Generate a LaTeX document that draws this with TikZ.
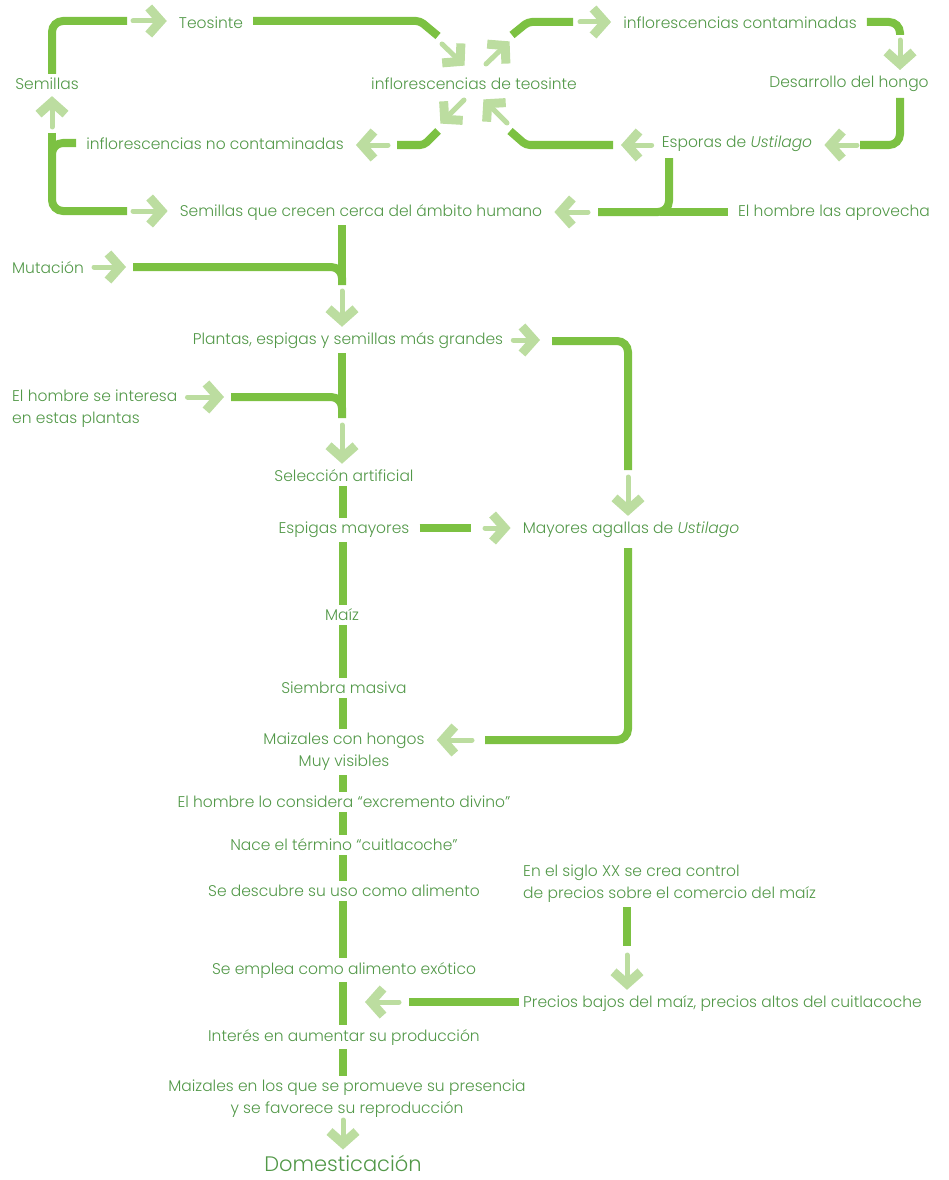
\documentclass[tikz,border=0pt]{standalone}
\usepackage{fontspec}
\setmainfont{Poppins}[UprightFont=*-Light, ItalicFont=*-LightItalic]
\usetikzlibrary{arrows.meta,calc}
\definecolor{maizdark}{RGB}{124,193,66}
\definecolor{maizlight}{RGB}{188,221,160}
\definecolor{maiztext}{RGB}{82,152,72}

\begin{document}
\begin{tikzpicture}[x=1pt, y=-1pt,
    lbl/.style={text=maiztext, font=\fontsize{15.5}{22}\selectfont, inner xsep=10pt, inner ysep=4pt, align=center, yshift=-2pt},
    darkline/.style={draw=maizdark, line width=8pt, rounded corners=11pt},
    lightarrow/.style={draw=maizlight, line width=5pt, line cap=round, -{Straight Barb[length=12pt, width=27pt, line width=9pt, sep=2pt]}}]
    \useasboundingbox (0,0) rectangle (949,1180);

    % upper cycle
    \node[lbl] (semillas) at (47,82) {Semillas};
    \node[lbl] (teosinte) at (211,21) {Teosinte};
    \node[lbl] (inflteo) at (474,82) {inflorescencias de teosinte};
    \node[lbl] (inflcont) at (740,21) {inflorescencias contaminadas};
    \node[lbl] (hongo) at (849,82) {Desarrollo del hongo};
    \node[lbl] (esporas) at (737,142) {Esporas de \textit{Ustilago}};
    \node[lbl] (inflnocont) at (215,142) {inflorescencias no contaminadas};
    \node[lbl] (semcerca) at (361,211) {Semillas que crecen cerca del ámbito humano};
    \node[lbl] (aprovecha) at (834,211) {El hombre las aprovecha};

    \draw[darkline] ([xshift=5pt]semillas.north) |- (127,21);
    \draw[lightarrow] (133,21) -- (teosinte.west |- 0,21);
    \draw[darkline, rounded corners=4pt] (teosinte.east |- 0,21) -- (420,21) -- (438,36);
    \draw[lightarrow] (442,44) -- (466,67);
    \draw[lightarrow] (486,64) -- (511,40);
    \draw[darkline, rounded corners=4pt] (512,35) -- (528,22) -- (573,22);
    \draw[lightarrow] (580,22) -- (inflcont.west |- 0,22);
    \draw[darkline] (inflcont.east |- 0,22) -| (900,35);
    \draw[lightarrow] (900,40) -- (hongo.north -| 900,0);
    \draw[darkline] (900,98) |- (860,145);
    \draw[lightarrow] (857,145) -- (esporas.east |- 0,145);
    \draw[lightarrow] (esporas.west |- 0,145) -- (619,145);
    \draw[darkline, rounded corners=4pt] (613,145) -- (526,145) -- (510,131);
    \draw[lightarrow] (507,123) -- (482,98);
    \draw[lightarrow] (464,100) -- (439,125);
    \draw[darkline, rounded corners=4pt] (438,131) -- (424,145) -- (397,145);
    \draw[lightarrow] (388,145) -- (inflnocont.east |- 0,145);
    \draw[darkline] (inflnocont.west |- 0,143) -- (52,143) -- (52,211) -- (127,211);
    \draw[darkline] (52,133) -- (52,160);
    \draw[lightarrow] (52,127) -- (semillas.south -| 52,0);
    \draw[lightarrow] (133,211) -- (semcerca.west |- 0,211);
    \draw[darkline] (669,158) |- (598,212);
    \draw[darkline] (aprovecha.west |- 0,212) -- (660,212);
    \draw[lightarrow] (588,212) -- (semcerca.east |- 0,212);

    % selection
    \node[lbl] (mutacion) at (48,266) {Mutación};
    \node[lbl] (plantas) at (348,339) {Plantas, espigas y semillas más grandes};
    \node[lbl, anchor=west, align=left] (interesa) at (2,407) {El hombre se interesa\\en estas plantas};
    \node[lbl] (seleccion) at (344,474) {Selección artificial};
    \node[lbl] (espigas) at (344,528) {Espigas mayores};
    \node[lbl] (agallas) at (631,528) {Mayores agallas de \textit{Ustilago}};

    \draw[darkline] (semcerca.south -| 342,0) -- (342,285);
    \draw[lightarrow] (mutacion.east |- 0,267) -- (128,267);
    \draw[darkline] (133,267) -| (342,285);
    \draw[lightarrow] (342,291) -- (plantas.north -| 342,0);
    \draw[darkline] (plantas.south -| 342,0) -- (342,418);
    \draw[lightarrow] (interesa.east |- 0,397) -- (226,397);
    \draw[darkline] (231,397) -| (342,418);
    \draw[lightarrow] (342,425) -- (seleccion.north -| 342,0);
    \draw[lightarrow] (plantas.east |- 0,340) -- (542,340);
    \draw[darkline] (552,341) -| (628,470);
    \draw[lightarrow] (628,477) -- (agallas.north -| 628,0);
    \draw[darkline] (espigas.east |- 0,528) -- (471,528);
    \draw[lightarrow] (485,528) -- (agallas.west |- 0,528);
    \draw[darkline] (628,548) |- (485,740);

    % main line
    \node[lbl] (maiz) at (342,613) {Maíz};
    \node[lbl] (siembra) at (344,686) {Siembra masiva};
    \node[lbl] (maizales) at (344,750) {Maizales con hongos\\Muy visibles};
    \node[lbl] (excremento) at (344,800) {El hombre lo considera “excremento divino”};
    \node[lbl] (termino) at (344,843) {Nace el término “cuitlacoche”};
    \node[lbl] (descubre) at (344,889) {Se descubre su uso como alimento};
    \node[lbl, anchor=west, align=left] (siglo) at (513,882) {En el siglo XX se crea control\\de precios sobre el comercio del maíz};
    \node[lbl] (exotico) at (344,968) {Se emplea como alimento exótico};
    \node[lbl, anchor=west] (precios) at (513,1002) {Precios bajos del maíz, precios altos del cuitlacoche};
    \node[lbl] (interes) at (344,1035) {Interés en aumentar su producción};
    \node[lbl] (presencia) at (347,1097) {Maizales en los que se promueve su presencia\\y se favorece su reproducción};
    \node[lbl, font=\fontsize{21}{24}\selectfont, anchor=base, yshift=0pt, inner ysep=1pt] (domest) at (343,1169) {Domesticación};

    \draw[lightarrow] (472,740) -- (maizales.east |- 0,740);
    \draw[darkline] (seleccion.south -| 343,0) -- (espigas.north -| 343,0);
    \draw[darkline] (espigas.south -| 343,0) -- (maiz.north -| 343,0);
    \draw[darkline] (maiz.south -| 343,0) -- (siembra.north -| 343,0);
    \draw[darkline] (siembra.south -| 343,0) -- (maizales.north -| 343,0);
    \draw[darkline] (maizales.south -| 343,0) -- (excremento.north -| 343,0);
    \draw[darkline] (excremento.south -| 343,0) -- (termino.north -| 343,0);
    \draw[darkline] (termino.south -| 343,0) -- (descubre.north -| 343,0);
    \draw[darkline] (descubre.south -| 343,0) -- (exotico.north -| 343,0);
    \draw[darkline] (exotico.south -| 343,0) -- (interes.north -| 343,0);
    \draw[darkline] (interes.south -| 343,0) -- (presencia.north -| 343,0);
    \draw[darkline] (siglo.south -| 627,0) -- (627,946);
    \draw[lightarrow] (627,955) -- (precios.north -| 627,0);
    \draw[darkline, shorten <=-6pt] (precios.west |- 0,1002) -- (409,1002);
    \draw[lightarrow] (399,1002) -- (363,1002);
    \draw[lightarrow] (343,1120) -- ([yshift=2pt]domest.north -| 343,0);
\end{tikzpicture}
\end{document}
